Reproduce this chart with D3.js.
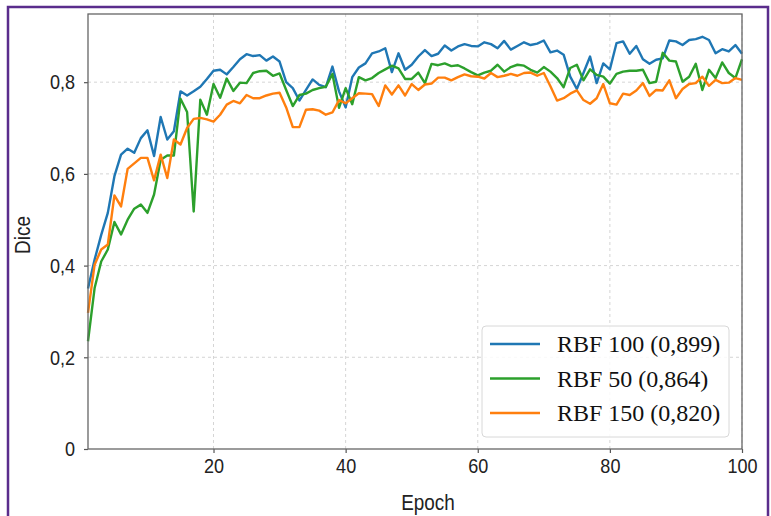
<!DOCTYPE html>
<html><head><meta charset="utf-8">
<script src="https://cdn.jsdelivr.net/npm/d3@7"></script>
<style>body{margin:0;background:#fff}svg{display:block}</style>
</head><body>
<svg id="c" width="771" height="516"></svg>
<script>
const epochs = d3.range(1, 101);
const rbf100 = [0.35,0.413,0.467,0.515,0.595,0.642,0.655,0.646,0.678,0.695,
0.639,0.724,0.675,0.693,0.78,0.771,0.78,0.79,0.807,0.825,
0.827,0.817,0.833,0.85,0.861,0.857,0.859,0.847,0.856,0.845,
0.80,0.787,0.76,0.783,0.806,0.794,0.789,0.834,0.78,0.745,
0.811,0.832,0.841,0.863,0.867,0.874,0.822,0.863,0.827,0.838,
0.856,0.87,0.857,0.862,0.88,0.869,0.878,0.883,0.879,0.878,
0.887,0.883,0.874,0.89,0.871,0.879,0.887,0.881,0.884,0.891,
0.865,0.869,0.86,0.812,0.785,0.82,0.856,0.798,0.841,0.828,
0.885,0.889,0.862,0.879,0.85,0.84,0.849,0.852,0.891,0.889,
0.881,0.892,0.894,0.899,0.892,0.863,0.872,0.867,0.881,0.862];
const rbf50 = [0.235,0.351,0.409,0.435,0.495,0.468,0.50,0.524,0.533,0.515,
0.555,0.631,0.64,0.64,0.764,0.735,0.518,0.762,0.729,0.796,
0.766,0.808,0.781,0.799,0.798,0.82,0.824,0.825,0.814,0.819,
0.783,0.748,0.772,0.775,0.783,0.787,0.79,0.818,0.744,0.787,
0.752,0.811,0.804,0.809,0.82,0.828,0.836,0.83,0.807,0.807,
0.821,0.798,0.84,0.837,0.841,0.835,0.837,0.83,0.822,0.815,
0.821,0.825,0.838,0.823,0.833,0.838,0.836,0.827,0.821,0.833,
0.823,0.809,0.789,0.831,0.838,0.804,0.828,0.816,0.812,0.797,
0.818,0.823,0.825,0.825,0.827,0.798,0.801,0.864,0.847,0.845,
0.801,0.812,0.84,0.783,0.827,0.809,0.843,0.82,0.809,0.85];
const rbf150 = [0.297,0.402,0.435,0.446,0.553,0.529,0.611,0.623,0.635,0.635,
0.586,0.642,0.591,0.675,0.664,0.70,0.72,0.722,0.719,0.714,
0.729,0.751,0.759,0.754,0.772,0.765,0.765,0.771,0.775,0.777,
0.745,0.702,0.702,0.74,0.741,0.738,0.729,0.734,0.761,0.754,
0.765,0.776,0.775,0.774,0.748,0.793,0.773,0.793,0.771,0.796,
0.783,0.795,0.797,0.81,0.81,0.804,0.811,0.817,0.813,0.812,
0.808,0.82,0.811,0.814,0.818,0.814,0.82,0.821,0.814,0.82,
0.791,0.76,0.765,0.775,0.782,0.761,0.753,0.765,0.796,0.754,
0.751,0.775,0.772,0.782,0.798,0.77,0.783,0.782,0.804,0.765,
0.785,0.796,0.798,0.812,0.792,0.805,0.798,0.799,0.809,0.805];
const seriesNames = ["RBF 100 (0,899)", "RBF 50 (0,864)", "RBF 150 (0,820)"];
const xTicks = [20, 40, 60, 80, 100];
const yTicks = [0, 0.2, 0.4, 0.6, 0.8];
const yTickLabels = ["0", "0,2", "0,4", "0,6", "0,8"];

const series = [
  {name: seriesNames[0], values: rbf100, color: "#1f77b4"},
  {name: seriesNames[1], values: rbf50, color: "#2ca02c"},
  {name: seriesNames[2], values: rbf150, color: "#ff7f0e"}
];

const svg = d3.select("#c");
const L = 88, R = 742, T = 14, B = 449;
const SX = 0.86; // horizontal squeeze of sans text
const x = d3.scaleLinear().domain([1, 100]).range([L, R]);
const y = d3.scaleLinear().domain([0, 0.9487]).range([B, T]);

// purple frame
svg.append("rect").attr("x", 8).attr("y", 7).attr("width", 760).attr("height", 530)
  .attr("fill", "none").attr("stroke", "#5a2d8c").attr("stroke-width", 2.5);

// grid
const g = svg.append("g");
g.selectAll(".gx").data(xTicks).join("line")
  .attr("x1", d => x(d)).attr("x2", d => x(d)).attr("y1", T).attr("y2", B)
  .attr("stroke", "#d0d0d0").attr("stroke-width", 0.9).attr("stroke-dasharray", "3,3");
g.selectAll(".gy").data(yTicks.slice(1)).join("line")
  .attr("y1", d => y(d)).attr("y2", d => y(d)).attr("x1", L).attr("x2", R)
  .attr("stroke", "#d0d0d0").attr("stroke-width", 0.9).attr("stroke-dasharray", "3,3");

// lines
const line = d3.line().x((d, i) => x(epochs[i])).y(d => y(d));
series.forEach(s => {
  svg.append("path").datum(s.values).attr("d", line)
    .attr("fill", "none").attr("stroke", s.color).attr("stroke-width", 2.4)
    .attr("stroke-linejoin", "round");
});

// axes
const xAxis = d3.axisBottom(x).tickValues(xTicks).tickSize(4).tickPadding(5);
const yAxis = d3.axisLeft(y).tickValues(yTicks).tickSize(4).tickPadding(10)
  .tickFormat((d, i) => yTickLabels[i]);
const ax = svg.append("g").attr("transform", `translate(0,${B})`).call(xAxis);
const ay = svg.append("g").attr("transform", `translate(${L},0)`).call(yAxis);
[ax, ay].forEach(a => {
  a.select(".domain").remove();
  a.selectAll(".tick line").attr("stroke", "#555").attr("stroke-width", 1.2);
  a.selectAll(".tick text").attr("font-family", "Liberation Sans, Arial, sans-serif")
    .attr("font-size", 21).attr("fill", "#222");
});
ax.selectAll(".tick text").attr("y", 9).attr("transform", `scale(${SX},1)`);
ay.selectAll(".tick text").attr("x", -13 / SX).attr("transform", `scale(${SX},1)`);

// frame
svg.append("rect").attr("x", L).attr("y", T).attr("width", R - L).attr("height", B - T)
  .attr("fill", "none").attr("stroke", "#666").attr("stroke-width", 1.3);

// labels
svg.append("text").attr("transform", `translate(428,510) scale(${SX},1)`).attr("text-anchor", "middle")
  .attr("font-family", "Liberation Sans, Arial, sans-serif").attr("font-size", 22)
  .attr("fill", "#222").text("Epoch");
svg.append("text").attr("transform", `translate(30,235) rotate(-90) scale(${SX},1)`).attr("text-anchor", "middle")
  .attr("font-family", "Liberation Sans, Arial, sans-serif").attr("font-size", 22)
  .attr("fill", "#222").text("Dice");

// legend
const lg = svg.append("g");
lg.append("rect").attr("x", 482).attr("y", 326).attr("width", 247).attr("height", 111)
  .attr("rx", 4).attr("fill", "#fff").attr("fill-opacity", 0.85)
  .attr("stroke", "#d8d8d8").attr("stroke-width", 1);
series.forEach((s, i) => {
  const yy = 344 + i * 34.5;
  lg.append("line").attr("x1", 490).attr("x2", 540).attr("y1", yy).attr("y2", yy)
    .attr("stroke", s.color).attr("stroke-width", 2.4);
  lg.append("text").attr("x", 557).attr("y", yy + 8)
    .attr("font-family", "Liberation Serif, Times New Roman, serif").attr("font-size", 24)
    .attr("fill", "#111").text(s.name);
});
</script>
</body></html>
